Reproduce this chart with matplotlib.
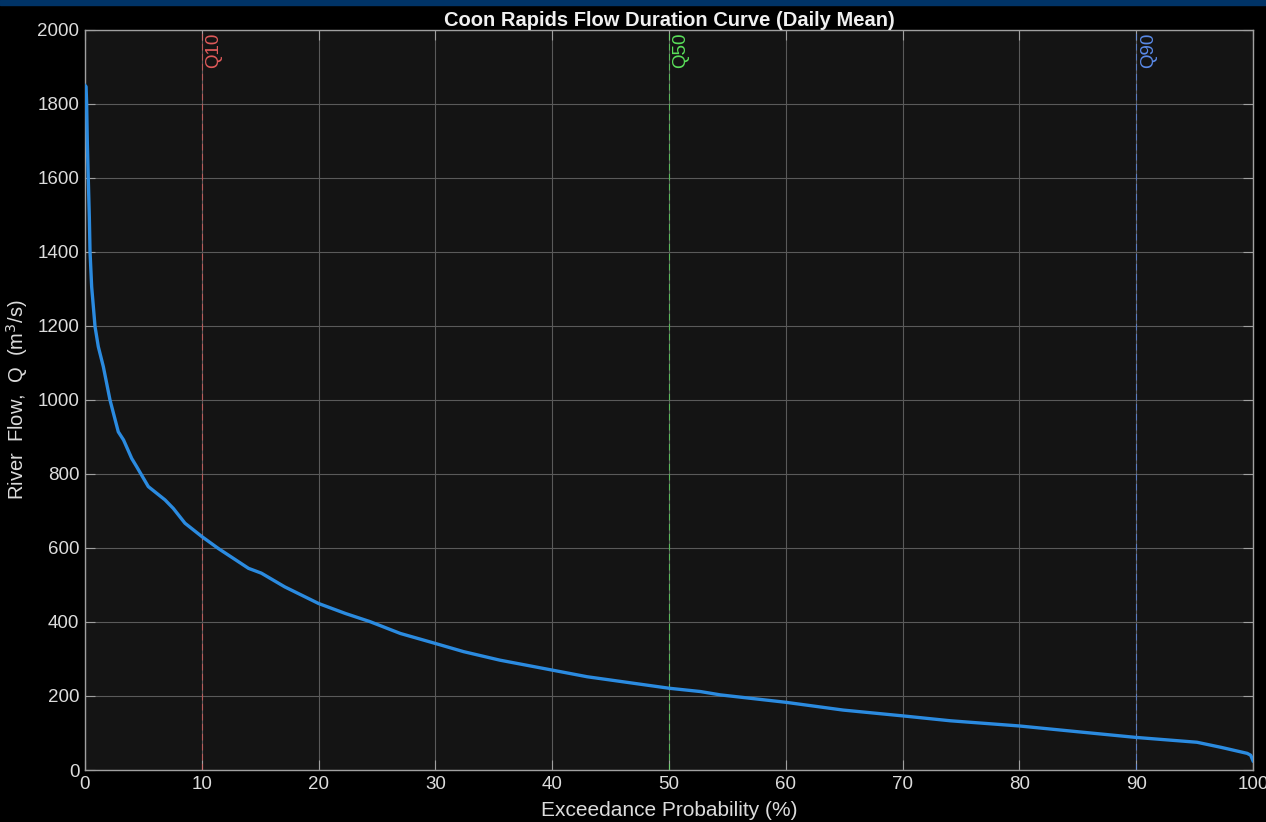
import matplotlib
matplotlib.use("Agg")
import matplotlib.pyplot as plt
from matplotlib.patches import Rectangle

# flow duration curve
exceedance = [0, 0.09, 0.14, 0.2, 0.28, 0.37, 0.43, 0.57, 0.86, 1.14, 1.57, 2.14,
              2.85, 3.3, 4.0, 4.42, 5.42, 6.85, 7.56, 8.56, 10.0, 11.4, 14.0,
              15.1, 17.1, 20.0, 22.3, 24.4, 27.0, 30.0, 32.4, 35.5, 40.0, 43.0,
              50.0, 52.7, 54.4, 60.0, 64.9, 70.1, 74.1, 80.0, 84.8, 90.0, 95.2,
              97.3, 99.5, 99.8, 100]
flow = [1850, 1847, 1802, 1694, 1599, 1495, 1401, 1306, 1198, 1144, 1090, 1000,
        914, 892, 842, 820, 766, 730, 707, 667, 631, 599, 545,
        532, 495, 450, 423, 401, 369, 342, 320, 297, 270, 252,
        221, 212, 203, 183, 162, 146, 133, 119, 104, 88, 75,
        61, 45, 40, 25]

q_labels = ["Q10", "Q50", "Q90"]
q_positions = [10, 50, 90]
q_colors = ["#e05a5a", "#5ae05a", "#5a8ae8"]

plt.rcParams["font.family"] = ["Liberation Sans", "DejaVu Sans"]

fig = plt.figure(figsize=(12.66, 8.22), dpi=100, facecolor="black")
fig.patches.append(Rectangle((0, 1 - 5 / 822), 1, 5 / 822, transform=fig.transFigure,
                             color="#003366", zorder=0))
ax = fig.add_axes([85 / 1266, 1 - 770 / 822, 1168 / 1266, 740 / 822])
ax.set_facecolor("#141414")

ax.grid(True, color="#5a5a5a", linewidth=0.8)
ax.set_axisbelow(True)

for lab, pos, col in zip(q_labels, q_positions, q_colors):
    ax.axvline(pos, color=col, linestyle=(0, (6, 3)), linewidth=0.8, alpha=0.7, zorder=2)
    ax.text(pos + 0.3, 1992, lab, color=col, rotation=90, ha="left", va="top",
            fontsize=13.5, zorder=3)

ax.plot(exceedance, flow, color="#2b8be0", linewidth=2.4, zorder=4)

ax.set_xlim(0, 100)
ax.set_ylim(0, 2000)
ax.set_xticks(range(0, 101, 10))
ax.set_yticks(range(0, 2001, 200))
ax.tick_params(direction="in", length=7, width=0.8, color="#a0a0a0",
               labelcolor="#dcdcdc", labelsize=13.5, top=True, right=True, pad=4)
for s in ax.spines.values():
    s.set_color("#a0a0a0")
    s.set_linewidth(1.0)

ax.set_title("Coon Rapids Flow Duration Curve (Daily Mean)", color="#f0f0f0",
             fontsize=14.5, fontweight="bold", pad=3)
ax.set_xlabel("Exceedance Probability (%)", color="#dcdcdc", fontsize=15, labelpad=6)
ax.set_ylabel("River  Flow,  Q  (m$^3$/s)", color="#dcdcdc", fontsize=14.5, labelpad=5)

fig.savefig("out.png", dpi=100, facecolor=fig.get_facecolor())
